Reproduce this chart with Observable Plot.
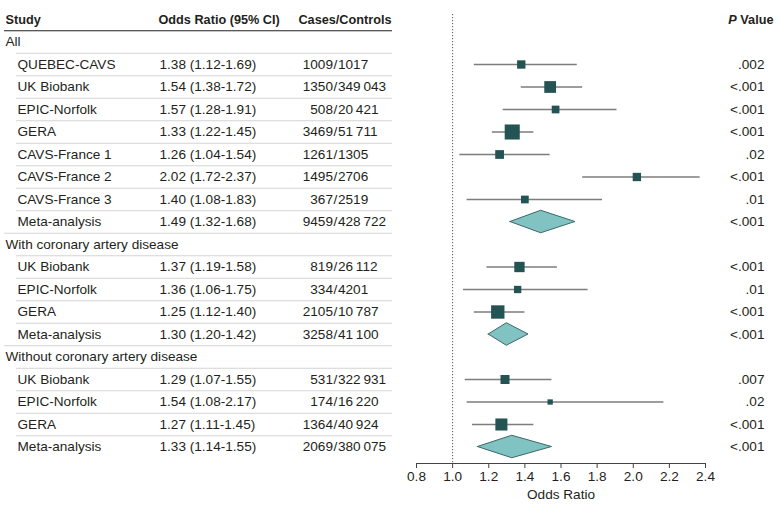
<!DOCTYPE html>
<html>
<head>
<meta charset="utf-8">
<script src="https://cdn.jsdelivr.net/npm/d3@7"></script>
<script src="https://cdn.jsdelivr.net/npm/@observablehq/plot@0.6"></script>
<style>
  html, body { margin: 0; padding: 0; background: #fff; }
  #chart { width: 780px; height: 517px; }
</style>
</head>
<body>
<div id="chart"></div>
<script>
// ---------- data ----------
const groups = ["All", "With coronary artery disease", "Without coronary artery disease"];
const studyGroup = [0, 0, 0, 0, 0, 0, 0, 0, 1, 1, 1, 1, 2, 2, 2, 2];
const studies = ["QUEBEC-CAVS", "UK Biobank", "EPIC-Norfolk", "GERA", "CAVS-France 1", "CAVS-France 2", "CAVS-France 3", "Meta-analysis",
                 "UK Biobank", "EPIC-Norfolk", "GERA", "Meta-analysis",
                 "UK Biobank", "EPIC-Norfolk", "GERA", "Meta-analysis"];
const oddsRatio = [1.38, 1.54, 1.57, 1.33, 1.26, 2.02, 1.40, 1.49, 1.37, 1.36, 1.25, 1.30, 1.29, 1.54, 1.27, 1.33];
const ciLow     = [1.12, 1.38, 1.28, 1.22, 1.04, 1.72, 1.08, 1.32, 1.19, 1.06, 1.12, 1.20, 1.07, 1.08, 1.11, 1.14];
const ciHigh    = [1.69, 1.72, 1.91, 1.45, 1.54, 2.37, 1.83, 1.68, 1.58, 1.75, 1.40, 1.42, 1.55, 2.17, 1.45, 1.55];
const cases     = [1009, 1350, 508, 3469, 1261, 1495, 367, 9459, 819, 334, 2105, 3258, 531, 174, 1364, 2069];
const controls  = [1017, 349043, 20421, 51711, 1305, 2706, 2519, 428722, 26112, 4201, 10787, 41100, 322931, 16220, 40924, 380075];
const pValues   = [".002", "<.001", "<.001", "<.001", ".02", "<.001", ".01", "<.001", "<.001", ".01", "<.001", "<.001", ".007", ".02", "<.001", "<.001"];
// relative study weight (square area), estimated; null for pooled estimates
const weights   = [6.9, 13.7, 5.9, 22.5, 7.6, 6.9, 5.9, null, 10.6, 5.3, 17.7, null, 8.1, 2.8, 14.4, null];
const xTicks = [0.8, 1.0, 1.2, 1.4, 1.6, 1.8, 2.0, 2.2, 2.4];
const headers = ["Study", "Odds Ratio (95% CI)", "Cases/Controls", "P Value"];

// ---------- build rows ----------
const fmtN = n => n >= 10000 ? d3.format(",")(n).replace(/,/g, "\u2009") : String(n);
const rows = [];
let r = 1;
groups.forEach((g, gi) => {
  rows.push({kind: "group", label: g, row: r++});
  studies.forEach((s, i) => {
    if (studyGroup[i] !== gi) return;
    rows.push({
      kind: s === "Meta-analysis" ? "meta" : "study",
      label: s, row: r++,
      or: oddsRatio[i], lo: ciLow[i], hi: ciHigh[i],
      orText: `${oddsRatio[i].toFixed(2)} (${ciLow[i].toFixed(2)}-${ciHigh[i].toFixed(2)})`,
      casesText: fmtN(cases[i]),
      controlsText: fmtN(controls[i]),
      p: pValues[i], w: weights[i]
    });
  });
});
const lastRow = r - 1;
const groupRows = rows.filter(d => d.kind === "group");
const entryRows = rows.filter(d => d.kind !== "group");
const studyRows = rows.filter(d => d.kind === "study");
const metaRows = rows.filter(d => d.kind === "meta");
const half = 0.5;
const diamondPts = metaRows.flatMap(d => [
  {row: d.row, x: d.lo, y1: d.row, y2: d.row},
  {row: d.row, x: d.or, y1: d.row - half, y2: d.row + half},
  {row: d.row, x: d.hi, y1: d.row, y2: d.row}
]);
// separator lines (between rows)
const sepBeforeGroup = rows.filter(d => d.row < lastRow && rows.find(e => e.row === d.row + 1).kind === "group");
const sepOther = rows.filter(d => d.row < lastRow && rows.find(e => e.row === d.row + 1).kind !== "group");

// ---------- layout ----------
const W = 780, H = 517;
const xRange = [416, 705];
const tableRight = 392;
const ink = "#231f20";
const fs = 13.6, hfs = 12.7;

const chart = Plot.plot({
  width: W, height: H,
  marginLeft: 0, marginRight: 0, marginTop: 14, marginBottom: 54,
  style: {fontFamily: "'Liberation Sans', Arial, sans-serif", fontSize: fs + "px", color: ink, background: "#fff", overflow: "visible"},
  x: {domain: [xTicks[0], xTicks[xTicks.length - 1]], range: xRange, axis: null},
  y: {domain: [0, lastRow], range: [19, 446.5], axis: null},
  r: {domain: [0, d3.max(weights)], range: [0, 8.5]},
  marks: [
    // table rules
    Plot.ruleY([0], {y: d => d + 0.5, insetLeft: 4, insetRight: W - tableRight, stroke: ink, strokeWidth: 1.2}),
    Plot.ruleY(sepOther, {y: d => d.row + 0.5, insetLeft: 16, insetRight: W - tableRight, stroke: "#d4d4d4"}),
    Plot.ruleY(sepBeforeGroup, {y: d => d.row + 0.5, insetLeft: 4, insetRight: W - tableRight, stroke: "#d4d4d4"}),
    // headers
    Plot.text([headers[0]], {y: () => 0, frameAnchor: "left", dx: 5, textAnchor: "start", fontWeight: "bold", fontSize: hfs, fill: ink}),
    Plot.text([headers[1]], {y: () => 0, frameAnchor: "left", dx: 158, textAnchor: "start", fontWeight: "bold", fontSize: hfs, fill: ink}),
    Plot.text([headers[2]], {y: () => 0, frameAnchor: "left", dx: 391, textAnchor: "end", fontWeight: "bold", fontSize: hfs, fill: ink}),
    Plot.text([headers[3]], {y: () => 0, frameAnchor: "left", dx: 773, textAnchor: "end", fontWeight: "bold", fontSize: hfs, fill: ink}),
    // table text
    Plot.text(groupRows, {y: "row", text: "label", frameAnchor: "left", dx: 5, textAnchor: "start", fill: ink}),
    Plot.text(entryRows, {y: "row", text: "label", frameAnchor: "left", dx: 17, textAnchor: "start", fill: ink}),
    Plot.text(entryRows, {y: "row", text: "orText", frameAnchor: "left", dx: 159, textAnchor: "start", fill: ink}),
    Plot.text(entryRows, {y: "row", text: "casesText", frameAnchor: "left", dx: 332.5, textAnchor: "end", fill: ink}),
    Plot.text(entryRows, {y: "row", text: () => "/", frameAnchor: "left", dx: 335, textAnchor: "middle", fill: ink}),
    Plot.text(entryRows, {y: "row", text: "controlsText", frameAnchor: "left", dx: 337.5, textAnchor: "start", fill: ink}),
    Plot.text(entryRows, {y: "row", text: "p", frameAnchor: "left", dx: 764, textAnchor: "end", fill: ink}),
    // reference line
    Plot.ruleX([1], {stroke: "#555", strokeDasharray: "1.2,1.8"}),
    // CIs and squares
    Plot.ruleY(studyRows, {y: "row", x1: "lo", x2: "hi", stroke: "#7d7d7d", strokeWidth: 1.3}),
    Plot.dot(studyRows, {x: "or", y: "row", r: "w", symbol: "square", fill: "#245353", stroke: null}),
    // diamonds
    Plot.area(diamondPts, {x1: "x", y1: "y1", y2: "y2", z: "row", fill: "#80c3c2", stroke: "#3b6868", strokeWidth: 1, curve: "linear"}),
    // x axis
    Plot.frame({anchor: "bottom", insetLeft: xRange[0], insetRight: W - xRange[1], stroke: "#444"}),
    Plot.axisX(xTicks, {anchor: "bottom", tickSize: 5, tickPadding: 3, tickFormat: d => d.toFixed(1), label: null, stroke: "#444", fill: ink, fontSize: fs}),
    Plot.text(["Odds Ratio"], {x: () => (xTicks[0] + xTicks[xTicks.length - 1]) / 2, frameAnchor: "bottom", dy: 35, fill: ink})
  ]
});

// italic P in "P Value"
d3.select(chart).selectAll("text").filter(function () { return this.textContent === "P Value"; })
  .each(function () {
    const t = d3.select(this);
    t.text(null);
    t.append("tspan").attr("font-style", "italic").text("P");
    t.append("tspan").text(" Value");
  });

document.getElementById("chart").append(chart);
</script>
</body>
</html>
